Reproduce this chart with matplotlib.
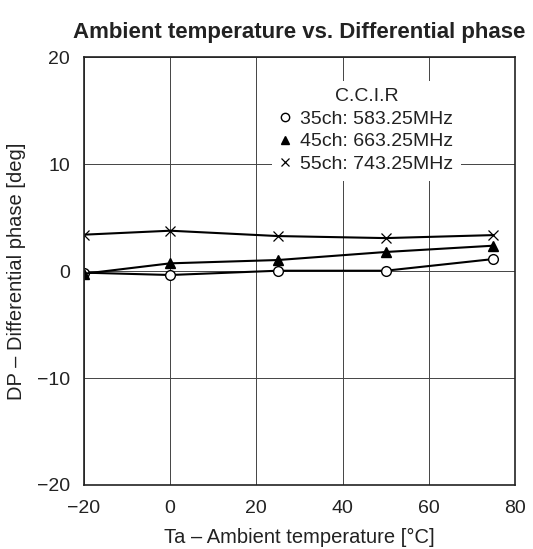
import numpy as np
import matplotlib.pyplot as plt

plt.rcParams['font.family'] = ['Liberation Sans', 'DejaVu Sans']

ta = [-20, 0, 25, 50, 75]
dp_35ch = [-0.15, -0.37, 0.03, 0.03, 1.12]
dp_45ch = [-0.25, 0.72, 1.03, 1.78, 2.37]
dp_55ch = [3.4, 3.77, 3.27, 3.08, 3.36]

labels = ['35ch: 583.25MHz', '45ch: 663.25MHz', '55ch: 743.25MHz']

fig = plt.figure(figsize=(5.33, 5.49), dpi=100)
ax = fig.add_axes([0.1576, 0.1166, 0.8084, 0.7794])

ax.plot(ta, dp_35ch, color='black', lw=1.5, marker='o', ms=7,
        mfc='white', mec='black', mew=1.0, label=labels[0])
ax.plot(ta, dp_45ch, color='black', lw=1.5, marker='^', ms=7,
        mfc='black', mec='black', label=labels[1])
ax.plot(ta, dp_55ch, color='black', lw=1.5, marker='x', ms=7,
        mew=0.9, label=labels[2])

ax.set_xlim(-20, 80)
ax.set_ylim(-20, 20)
ax.set_xticks([-20, 0, 20, 40, 60, 80])
ax.set_yticks([-20, -10, 0, 10, 20])
ax.set_xticklabels(['\u221220', '0', '20', '40', '60', '80'])
ax.set_yticklabels(['\u221220', '\u221210', '0', '10', '20'])
ax.tick_params(length=0, labelsize=14, colors='#222222')
ax.tick_params(axis='x', pad=11)
ax.tick_params(axis='y', pad=10)
ax.grid(True, color='#444444', lw=0.7)
for s in ax.spines.values():
    s.set_color('#222222')
    s.set_linewidth(1.2)

ax.set_xlabel('Ta \u2013 Ambient temperature [\u00b0C]', fontsize=14.5, color='#222222', labelpad=8)
ax.set_ylabel('DP \u2013 Differential phase [deg]', fontsize=14.5, color='#222222', labelpad=8)
ax.set_title('Ambient temperature vs. Differential phase', fontsize=16,
             fontweight='bold', color='#222222', pad=14)

leg = ax.legend(title='C.C.I.R', loc='upper right', bbox_to_anchor=(0.874, 0.945),
                frameon=True, fontsize=14, title_fontsize=14, handlelength=0.5,
                handletextpad=0.5, borderpad=0.4, labelspacing=0.25, framealpha=1.0,
                borderaxespad=0)
leg.get_frame().set_edgecolor('none')
plt.setp(leg.get_texts(), color='#222222')
leg.get_title().set_color('#222222')
for h in leg.legend_handles:
    h.set_linestyle('none')
    h.set_markersize(6)

fig.savefig('out.png', dpi=100)
